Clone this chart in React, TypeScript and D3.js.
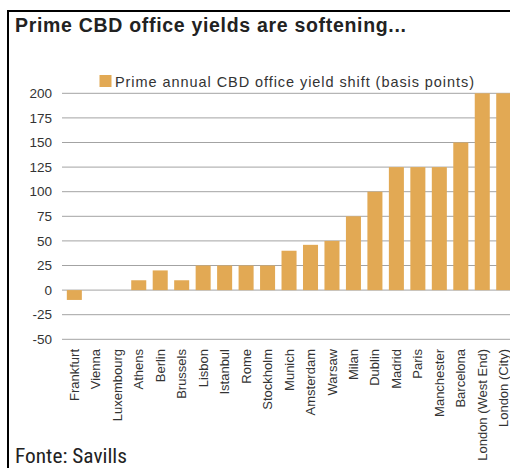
import React from "react";
import * as d3 from "d3";

const categories = [
  "Frankfurt", "Vienna", "Luxembourg", "Athens", "Berlin", "Brussels", "Lisbon",
  "Istanbul", "Rome", "Stockholm", "Munich", "Amsterdam", "Warsaw", "Milan",
  "Dublin", "Madrid", "Paris", "Manchester", "Barcelona", "London (West End)", "London (City)",
];
const yieldShift = [-10, 0, 0, 10, 20, 10, 25, 25, 25, 25, 40, 46, 50, 75, 100, 125, 125, 125, 150, 200, 200];
const yTicks = [-50, -25, 0, 25, 50, 75, 100, 125, 150, 175, 200];

const title = "Prime CBD office yields are softening...";
const legendLabel = "Prime annual CBD office yield shift (basis points)";
const source = "Fonte: Savills";

const W = 510;
const H = 468;
const BAR = "#E2A954";
const FONT = "'Liberation Sans', Arial, sans-serif";

export default function App() {
  const step = 21.47;
  const x0 = 63.6;
  const x = d3
    .scaleBand<string>()
    .domain(categories)
    .range([x0, x0 + step * categories.length])
    .paddingInner(0.3)
    .paddingOuter(0.15);
  const y = d3.scaleLinear().domain([-50, 200]).range([339.3, 93.3]);

  return (
    <svg
      width={W}
      height={H}
      style={{ position: "absolute", left: 0, top: 0, background: "#fff" }}
      fontFamily={FONT}
    >
      <rect x={0} y={0} width={W} height={H} fill="#fff" />
      {/* frame */}
      <line x1={8} x2={W} y1={11} y2={11} stroke="#000" strokeWidth={2} />
      <line x1={8} x2={8} y1={10} y2={H} stroke="#000" strokeWidth={2} />

      <text x={15} y={32} fontSize={19.5} fontWeight="bold" fill="#222" textLength={391} lengthAdjust="spacing">
        {title}
      </text>

      {/* legend */}
      <rect x={99.5} y={75} width={12} height={12} fill={BAR} />
      <text x={115} y={86.5} fontSize={14.5} fill="#333" textLength={359} lengthAdjust="spacing">
        {legendLabel}
      </text>

      {/* gridlines */}
      {yTicks.map((t) => (
        <g key={t}>
          <line x1={62} x2={W} y1={y(t)} y2={y(t)} stroke="#a3a3a3" strokeWidth={1} />
          <text x={52} y={y(t)} dy="0.35em" textAnchor="end" fontSize={13.5} fill="#333">
            {t}
          </text>
        </g>
      ))}

      {/* bars */}
      {categories.map((c, i) => {
        const v = yieldShift[i];
        const top = y(Math.max(0, v));
        const bot = y(Math.min(0, v));
        return (
          <rect key={c} x={x(c)} y={top} width={x.bandwidth()} height={bot - top} fill={BAR} />
        );
      })}

      {/* x labels */}
      {categories.map((c) => {
        const cx = (x(c) as number) + x.bandwidth() / 2;
        return (
          <text
            key={c}
            transform={`translate(${cx},349) rotate(-90)`}
            textAnchor="end"
            dy="0.35em"
            fontSize={13}
            fill="#333"
          >
            {c}
          </text>
        );
      })}

      <text
        x={15}
        y={462.5}
        fontSize={20}
        fill="#222"
        textLength={112}
        lengthAdjust="spacingAndGlyphs"
        fontFamily="'Liberation Sans Narrow', 'Roboto Condensed', 'DejaVu Sans Condensed', sans-serif"
      >
        {source}
      </text>
    </svg>
  );
}
